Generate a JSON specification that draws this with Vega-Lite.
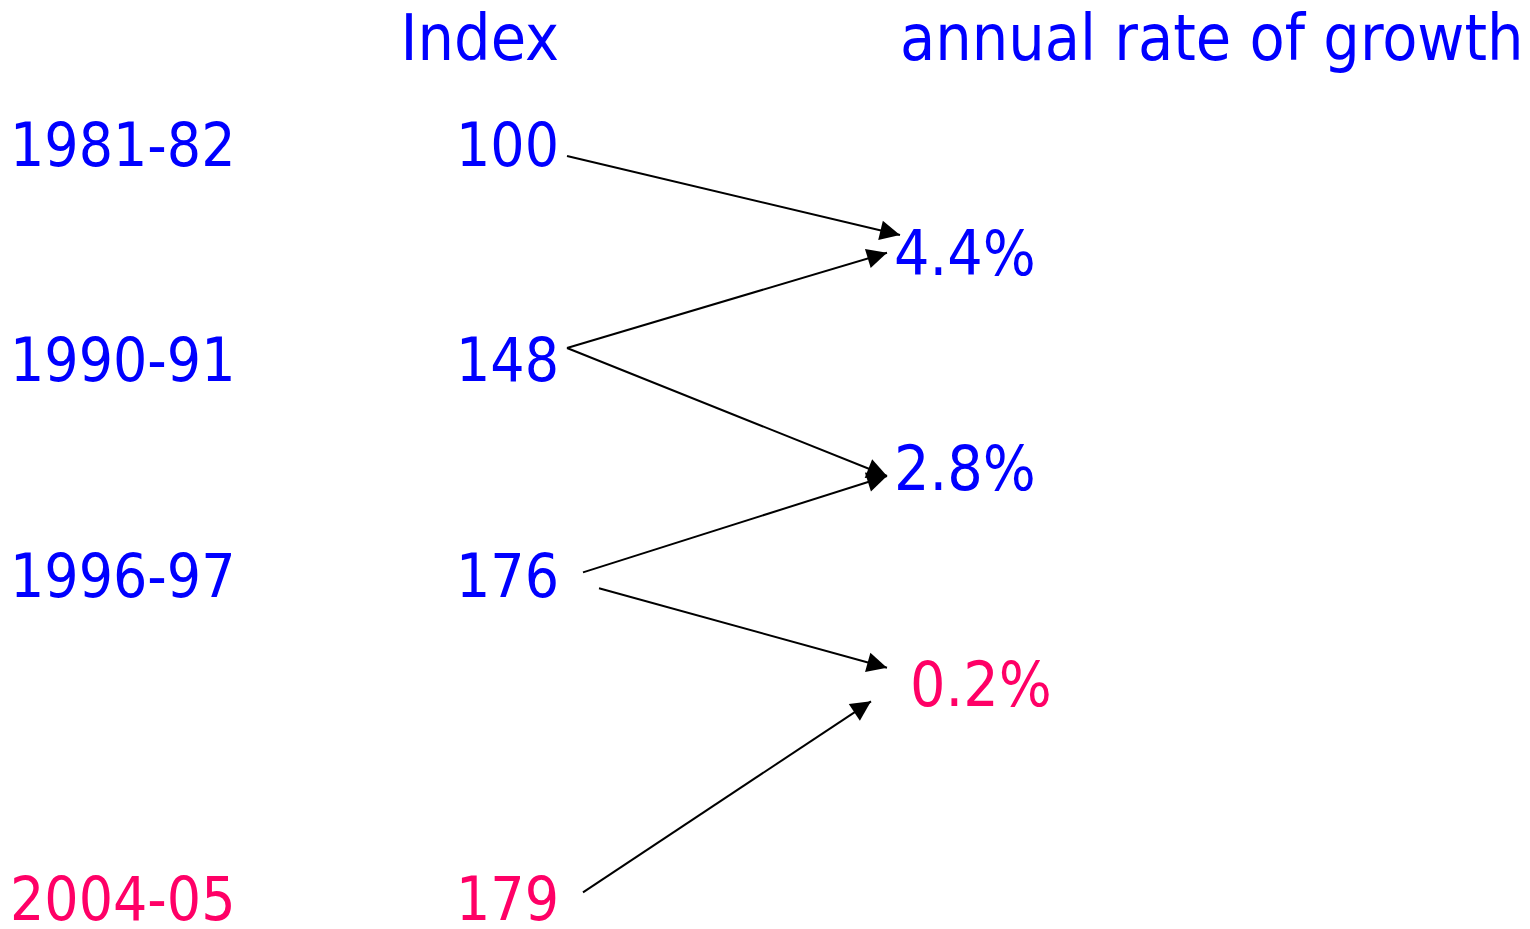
{
  "$schema": "https://vega.github.io/schema/vega-lite/v6.json",
  "autosize": {"type": "none"},
  "width": 1530,
  "height": 929,
  "padding": 0,
  "background": "white",
  "config": {"view": {"stroke": null}, "text": {"font": "DejaVu Sans Condensed", "fontSize": 62, "baseline": "alphabetic", "dy": -4}},
  "datasets": {
    "periods": [
      {"period": "1981-82", "index": "100", "row": 0, "group": "base"},
      {"period": "1990-91", "index": "148", "row": 2, "group": "base"},
      {"period": "1996-97", "index": "176", "row": 4, "group": "base"},
      {"period": "2004-05", "index": "179", "row": 7, "group": "latest"}
    ],
    "growth": [
      {"rate": "4.4%", "between": "1981-82 to 1990-91", "row": 1, "x": 89.4, "group": "base"},
      {"rate": "2.8%", "between": "1990-91 to 1996-97", "row": 3, "x": 89.4, "group": "base"},
      {"rate": "0.2%", "between": "1996-97 to 2004-05", "row": 5, "x": 91.0, "group": "latest"}
    ],
    "headers": [
      {"label": "Index", "row": -1, "group": "base"}
    ],
    "headers2": [
      {"label": "annual rate of growth", "row": -1, "group": "base"}
    ],
    "arrows": [
      {"from": "100", "to": "4.4%", "x1": 56.7, "y1": -0.137, "x2": 90.0, "y2": 0.596},
      {"from": "148", "to": "4.4%", "x1": 56.7, "y1": 1.645, "x2": 88.7, "y2": 0.761},
      {"from": "148", "to": "2.8%", "x1": 56.7, "y1": 1.645, "x2": 88.7, "y2": 2.833},
      {"from": "176", "to": "2.8%", "x1": 58.3, "y1": 3.727, "x2": 88.7, "y2": 2.833},
      {"from": "176", "to": "0.2%", "x1": 59.9, "y1": 3.875, "x2": 88.7, "y2": 4.612},
      {"from": "179", "to": "0.2%", "x1": 58.3, "y1": 6.697, "x2": 87.1, "y2": 4.924}
    ]
  },
  "layer": [
    {
      "data": {"name": "arrows"},
      "mark": {"type": "rule", "color": "black", "strokeWidth": 2},
      "encoding": {
        "x": {"field": "x1", "type": "quantitative", "scale": {"domain": [0, 153], "nice": false, "zero": false}, "axis": null},
        "y": {"field": "y1", "type": "quantitative", "scale": {"domain": [-1.585, 7.037], "nice": false, "zero": false, "reverse": true}, "axis": null},
        "x2": {"field": "x2"},
        "y2": {"field": "y2"}
      }
    },
    {
      "data": {"name": "arrows"},
      "transform": [
        {"calculate": "atan2((datum.y2 - datum.y1) * 107.75, (datum.x2 - datum.x1) * 10) * 180 / PI", "as": "angle"}
      ],
      "mark": {"type": "point", "shape": "M0,0L-2,-1L-2,1Z", "filled": true, "color": "black", "size": 400, "opacity": 1},
      "encoding": {
        "x": {"field": "x2", "type": "quantitative"},
        "y": {"field": "y2", "type": "quantitative"},
        "angle": {"field": "angle", "type": "quantitative", "scale": null}
      }
    },
    {
      "data": {"name": "periods"},
      "mark": {"type": "text", "align": "left", "fontSize": 60, "dy": -5},
      "encoding": {
        "x": {"datum": 1.0, "type": "quantitative"},
        "y": {"field": "row", "type": "quantitative"},
        "text": {"field": "period"},
        "color": {"field": "group", "type": "nominal", "scale": {"domain": ["base", "latest"], "range": ["#0000FF", "#FF0066"]}, "legend": null}
      }
    },
    {
      "data": {"name": "periods"},
      "mark": {"type": "text", "align": "right", "fontSize": 60, "dy": -5},
      "encoding": {
        "x": {"datum": 55.9, "type": "quantitative"},
        "y": {"field": "row", "type": "quantitative"},
        "text": {"field": "index"},
        "color": {"field": "group", "type": "nominal", "legend": null}
      }
    },
    {
      "data": {"name": "headers"},
      "mark": {"type": "text", "align": "right", "fontSize": 64, "dy": -3},
      "encoding": {
        "x": {"datum": 55.9, "type": "quantitative"},
        "y": {"field": "row", "type": "quantitative"},
        "text": {"field": "label"},
        "color": {"field": "group", "type": "nominal", "legend": null}
      }
    },
    {
      "data": {"name": "headers2"},
      "mark": {"type": "text", "align": "left", "fontSize": 64, "dy": -3},
      "encoding": {
        "x": {"datum": 90.0, "type": "quantitative"},
        "y": {"field": "row", "type": "quantitative"},
        "text": {"field": "label"},
        "color": {"field": "group", "type": "nominal", "legend": null}
      }
    },
    {
      "data": {"name": "growth"},
      "mark": {"type": "text", "align": "left"},
      "encoding": {
        "x": {"field": "x", "type": "quantitative"},
        "y": {"field": "row", "type": "quantitative"},
        "text": {"field": "rate"},
        "color": {"field": "group", "type": "nominal", "legend": null}
      }
    }
  ]
}
